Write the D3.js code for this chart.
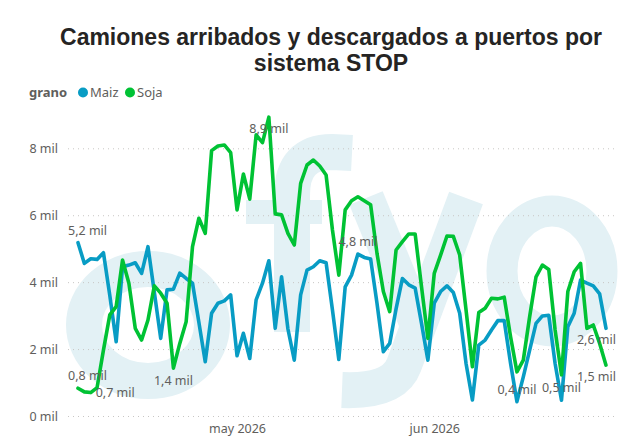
<!DOCTYPE html>
<html>
<head>
<meta charset="utf-8">
<script src="https://cdn.jsdelivr.net/npm/d3@7"></script>
<style>
  body { margin: 0; background: #fff; }
  text { font-family: "Noto Sans", "Open Sans", sans-serif; }
</style>
</head>
<body>
<script>
// daily values, thousands of trucks, from 6 apr 2026 to 28 jun 2026
const startDate = new Date(2026, 3, 6);

const maiz = [5.18, 4.56, 4.70, 4.68, 4.88, 3.60, 2.22, 4.46, 4.51, 4.58,
  4.26, 5.06, 3.70, 2.32, 3.77, 3.79, 4.27, 4.11, 3.97, 2.80,
  1.62, 3.07, 3.37, 3.44, 3.62, 1.80, 2.47, 1.72, 3.47, 3.97,
  4.64, 2.62, 4.16, 2.60, 1.67, 3.62, 4.36, 4.46, 4.64, 4.58,
  3.17, 1.69, 3.86, 4.21, 4.84, 4.74, 4.69, 3.37, 1.92, 2.17,
  3.20, 4.11, 3.92, 3.82, 2.77, 1.67, 3.37, 3.72, 3.89, 3.69,
  3.07, 1.57, 0.48, 2.12, 2.27, 2.57, 2.85, 2.85, 1.57, 0.43,
  1.17, 1.97, 2.77, 2.99, 3.01, 1.57, 0.47, 2.67, 3.07, 4.06,
  3.97, 3.89, 3.65, 2.62];

const soja = [0.83, 0.72, 0.70, 0.85, 1.97, 3.02, 3.27, 4.66, 3.97, 2.62,
  2.27, 2.87, 3.89, 3.67, 3.37, 1.43, 2.17, 2.82, 5.06, 5.91,
  5.46, 7.93, 8.07, 8.10, 7.87, 6.16, 7.23, 6.48, 8.40, 8.17,
  8.93, 6.04, 6.01, 5.46, 5.11, 6.95, 7.50, 7.65, 7.47, 7.20,
  5.56, 4.21, 6.16, 6.43, 6.55, 6.43, 6.31, 4.86, 3.72, 3.12,
  4.96, 5.21, 5.44, 5.44, 3.86, 2.32, 4.26, 4.81, 5.38, 5.37,
  4.81, 3.17, 1.47, 3.09, 3.22, 3.52, 3.50, 3.55, 2.37, 1.32,
  1.67, 2.97, 4.16, 4.51, 4.38, 2.57, 1.23, 3.72, 4.31, 4.56,
  2.62, 2.72, 2.17, 1.52];

const seriesNames = ["Maiz", "Soja"];
const seriesColors = ["#089cc4", "#00c234"];
const yTicks = [0, 2, 4, 6, 8];

// which points carry a value label: [series, day index, placement]
const labelled = [
  [0, 0, "above"], [0, 44, "above"], [0, 69, "above"], [0, 76, "above"], [0, 83, "belowLeft"],
  [1, 0, "above"], [1, 2, "right"], [1, 15, "below"], [1, 30, "left"], [1, 83, "belowLeft"]
];

const W = 644, H = 440;
const svg = d3.select("body").append("svg")
  .attr("width", W).attr("height", H);

const series = [maiz, soja].map((vals, s) => ({
  name: seriesNames[s],
  color: seriesColors[s],
  values: vals.map((v, i) => ({ date: d3.timeDay.offset(startDate, i), v: v }))
}));

const xScale = d3.scaleTime()
  .domain([startDate, d3.timeDay.offset(startDate, maiz.length - 1)])
  .range([78, 606]);

const yScale = d3.scaleLinear()
  .domain([0, 8])
  .range([416, 148.3]);

// faint logo in the background, drawn as shapes
const wmColor = "#e3f1f5";
const wm = svg.append("g").attr("fill", "none").attr("stroke", wmColor);
wm.append("ellipse").attr("cx", 148).attr("cy", 325).attr("rx", 64).attr("ry", 56).attr("stroke-width", 36);
wm.append("ellipse").attr("cx", 552).attr("cy", 271).attr("rx", 50).attr("ry", 60).attr("stroke-width", 31);
wm.append("path").attr("d", "M292,332 L292,195 Q292,152 332,152 L352,153").attr("stroke-width", 36);
wm.append("path").attr("d", "M246,212 L322,212").attr("stroke-width", 24);
wm.append("path").attr("d", "M366,198 L420,330").attr("stroke-width", 36);
wm.append("path").attr("d", "M466,198 L404,365 Q394,392 342,390").attr("stroke-width", 36);

// title
const title = svg.append("text")
  .attr("text-anchor", "middle")
  .attr("font-size", 23).attr("font-weight", "bold")
  .style("font-family", "'Liberation Sans', Arial, sans-serif")
  .attr("fill", "#252423");
title.append("tspan").attr("x", 331).attr("y", 45).text("Camiones arribados y descargados a puertos por");
title.append("tspan").attr("x", 331).attr("y", 71).text("sistema STOP");

// legend
const legend = svg.append("g").attr("font-size", 13);
legend.append("text").attr("x", 29).attr("y", 97)
  .attr("font-weight", "bold").attr("fill", "#605e5c").text("grano");
const legItems = legend.selectAll(".item").data(series).enter().append("g")
  .attr("transform", (d, i) => `translate(${83 + i * 47},0)`);
legItems.append("circle").attr("cx", 0).attr("cy", 92.5).attr("r", 5)
  .attr("fill", d => d.color);
legItems.append("text").attr("x", 7).attr("y", 97)
  .attr("fill", "#605e5c").text(d => d.name);

// y axis with dotted gridlines
const yAxis = d3.axisLeft(yScale)
  .tickValues(yTicks)
  .tickSize(-(616 - 68))
  .tickPadding(10)
  .tickFormat(d => d + " mil");
const yg = svg.append("g")
  .attr("transform", "translate(68,0)")
  .call(yAxis);
yg.select(".domain").remove();
yg.selectAll(".tick line")
  .attr("stroke", "#c8c6c4")
  .attr("stroke-dasharray", "1,4");
yg.selectAll(".tick text")
  .attr("font-size", 12.5)
  .attr("fill", "#605e5c")
  .style("font-family", "'Noto Sans', sans-serif");

// x axis: month labels in spanish
const es = d3.timeFormatLocale({
  dateTime: "%x, %X", date: "%d/%m/%Y", time: "%H:%M:%S",
  periods: ["AM", "PM"],
  days: ["domingo", "lunes", "martes", "miércoles", "jueves", "viernes", "sábado"],
  shortDays: ["dom", "lun", "mar", "mié", "jue", "vie", "sáb"],
  months: ["enero", "febrero", "marzo", "abril", "mayo", "junio", "julio", "agosto", "septiembre", "octubre", "noviembre", "diciembre"],
  shortMonths: ["ene", "feb", "mar", "abr", "may", "jun", "jul", "ago", "sep", "oct", "nov", "dic"]
});
const xAxis = d3.axisBottom(xScale)
  .ticks(d3.timeMonth.every(1))
  .tickSize(0)
  .tickPadding(8)
  .tickFormat(es.format("%b %Y"));
const xg = svg.append("g")
  .attr("transform", "translate(0,416)")
  .call(xAxis);
xg.select(".domain").remove();
xg.selectAll(".tick text")
  .attr("font-size", 12.5)
  .attr("fill", "#605e5c")
  .style("font-family", "'Noto Sans', sans-serif");

// lines
const line = d3.line()
  .x(d => xScale(d.date))
  .y(d => yScale(d.v));

svg.selectAll(".series").data(series).enter().append("path")
  .attr("class", "series")
  .attr("d", d => line(d.values))
  .attr("fill", "none")
  .attr("stroke", d => d.color)
  .attr("stroke-width", 3.6)
  .attr("stroke-linejoin", "round")
  .attr("stroke-linecap", "round");

// value labels
const fmt = v => v.toFixed(1).replace(".", ",") + " mil";
svg.selectAll(".vlabel").data(labelled).enter().append("text")
  .attr("class", "vlabel")
  .attr("font-size", 12.5)
  .attr("fill", "#605e5c")
  .attr("text-anchor", d => d[2] === "right" ? "start" : d[2] === "belowLeft" ? "end" : d[2] === "left" ? "middle" : (d[1] === 0 ? "start" : "middle"))
  .attr("x", d => {
    const p = series[d[0]].values[d[1]];
    const x = xScale(p.date);
    if (d[2] === "right") return x + 5;
    if (d[2] === "belowLeft") return x + 10;
    if (d[1] === 0) return x - 10;
    return x;
  })
  .attr("y", d => {
    const p = series[d[0]].values[d[1]];
    const y = yScale(p.v);
    if (d[2] === "above") return y - 8;
    if (d[2] === "right") return y + 4;
    if (d[2] === "below") return y + 17;
    return y + 16;
  })
  .text(d => fmt(series[d[0]].values[d[1]].v));
</script>
</body>
</html>
